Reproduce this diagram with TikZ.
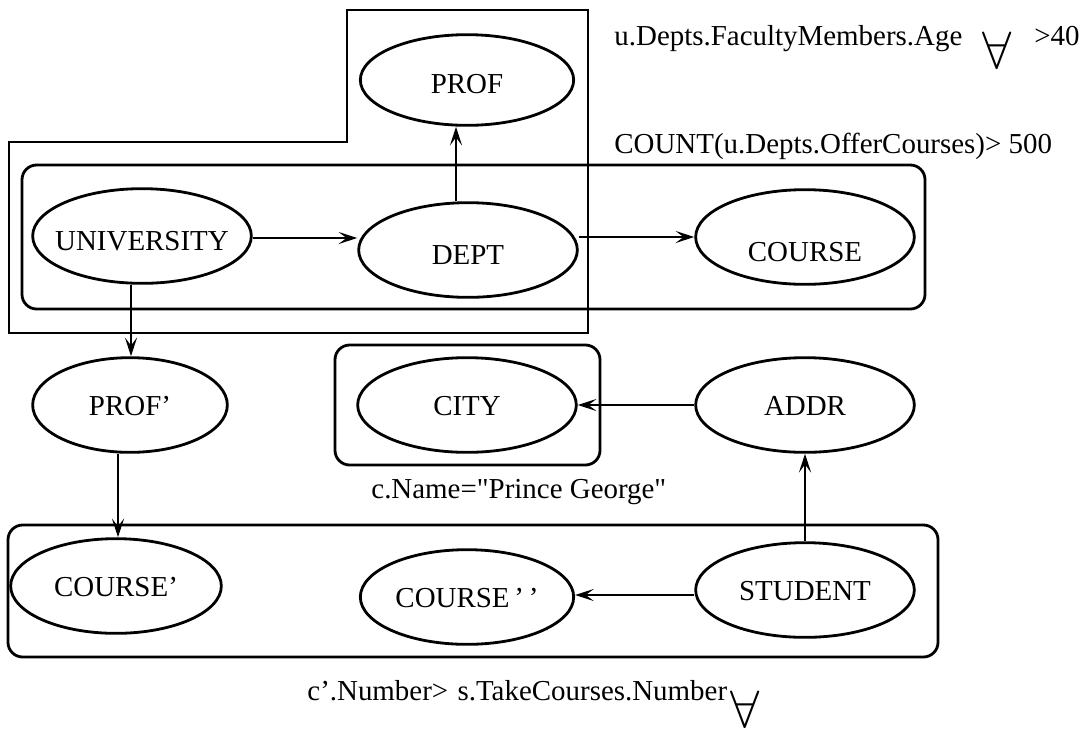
\documentclass[tikz,border=0pt]{standalone}
\usepackage{fontspec}
\setmainfont{Liberation Serif}
\usetikzlibrary{arrows.meta,shapes.geometric}
% label whose baseline sits #1 below the centre of its node, taking no room
\newcommand{\lowlabel}[2]{\smash{\makebox[0pt]{\raisebox{-#1}{#2}}}}
\begin{document}
\begin{tikzpicture}[x=0.75pt,y=-0.75pt,line width=2.1pt,
  font=\fontsize{21.7}{26}\selectfont,
  ent/.style={draw,ellipse,inner sep=0pt,line width=2.1pt,minimum width=164pt,minimum height=71pt},
  link/.style={-{Stealth[length=14pt,width=9pt,inset=6pt]},line width=2.1pt},
  grp/.style={draw,rounded corners=11pt,line width=2.1pt},
  note/.style={anchor=base west,inner sep=0pt},
  quant/.style={inner sep=0pt}]
\useasboundingbox (0,0) rectangle (1087,729);

% stepped outline round UNIVERSITY, DEPT and PROF
\draw (9,142) -- (347,142) -- (347,10) -- (588,10) -- (588,333) -- (9,333) -- cycle;
% grouping boxes
\draw[grp] (22,165) rectangle (925,309);
\draw[grp] (335,345) rectangle (600,465);
\draw[grp] (8,525) rectangle (938,657);

% entities
\node[ent,minimum width=160pt,minimum height=68pt] (prof) at (467,80) {\lowlabel{10pt}{PROF}};
\node[ent] (univ) at (142,236) {\lowlabel{10.5pt}{UNIVERSITY}};
\node[ent] (dept) at (468,250) {\lowlabel{10.5pt}{DEPT}};
\node[ent] (course) at (805,237) {\lowlabel{18pt}{COURSE}};
\node[ent,minimum width=146pt] (profp) at (130,405) {\lowlabel{8pt}{PROF'}};
\node[ent] (city) at (467,405) {\lowlabel{8pt}{CITY}};
\node[ent] (addr) at (805,405) {\lowlabel{8pt}{ADDR}};
\node[ent,minimum width=158pt] (coursep) at (116,586) {\lowlabel{8pt}{COURSE'}};
\node[ent,minimum width=160pt] (coursepp) at (467,597) {\lowlabel{8pt}{COURSE\,'\,'}};
\node[ent] (student) at (805,590) {\lowlabel{8pt}{STUDENT}};

% relationships
\draw[link] (univ.east |- 0,238) -- (dept.west |- 0,238);
\draw[link] (dept.north -| 456,0) -- (prof.south -| 456,0);
\draw[link] (dept.east |- 0,237) -- (course.west |- 0,237);
\draw[link] (univ.south -| 131,0) -- (profp.north -| 131,0);
\draw[link] (profp.south -| 118,0) -- (coursep.north -| 118,0);
\draw[link] (addr.west) -- (city.east);
\draw[link] (student.north) -- (addr.south);
\draw[link] (student.west |- 0,595) -- (coursepp.east |- 0,595);

% constraints
\node[note] (age) at (613,45) {u.Depts.FacultyMembers.Age};
\node[quant] (all1) at (997,50) {\scalebox{1.9}{$\forall$}};
\node[note] (forty) at (1033,45) {>40};
\node[note] (count) at (613,153) {COUNT(u.Depts.OfferCourses)> 500};
\node[note] (pg) at (370,498) {c.Name=\textquotedbl Prince George\textquotedbl};
\node[note] (num) at (306,700) {c'.Number>\hspace{7pt}s.TakeCourses.Number};
\node[quant] (all2) at (745,709) {\scalebox{1.9}{$\forall$}};
\end{tikzpicture}
\end{document}
